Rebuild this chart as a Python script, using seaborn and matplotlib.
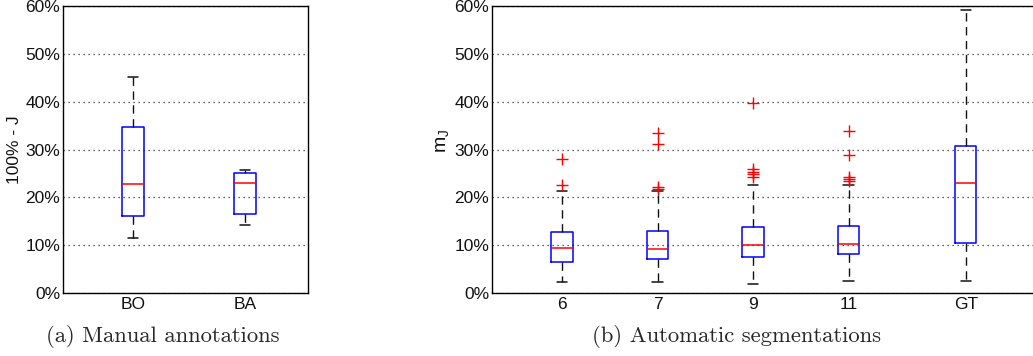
import numpy as np
import pandas as pd
import matplotlib
matplotlib.use("Agg")
import matplotlib.pyplot as plt
import seaborn as sns

# ---------------- data (in %) ----------------
groups_a = ["BO", "BA"]
lo_a = [11.5, 14.2]
q1_a = [16.0, 16.6]
med_a = [22.7, 23.0]
q3_a = [34.8, 25.1]
hi_a = [45.1, 25.8]
fliers_a = [[], []]

groups_b = ["6", "7", "9", "11", "GT"]
pos_b = [1.0, 2.0, 3.0, 4.0, 5.23]
lo_b = [2.35, 2.35, 1.95, 2.55, 2.55]
q1_b = [6.5, 7.2, 7.6, 8.2, 10.5]
med_b = [9.5, 9.1, 10.1, 10.3, 23.1]
q3_b = [12.8, 13.0, 13.7, 14.1, 30.8]
hi_b = [21.3, 21.3, 22.5, 22.5, 59.2]
fliers_b = [
    [22.5, 28.0],
    [21.8, 22.1, 31.2, 33.4],
    [24.2, 24.8, 25.3, 25.9, 39.8],
    [23.5, 23.9, 24.3, 28.9, 33.8],
    [],
]

ytick_vals = [0, 10, 20, 30, 40, 50, 60]
ytick_labels = [f"{v}%" for v in ytick_vals]


def sample_from_summary(lo, q1, med, q3, hi, fl):
    """Sample of 4k+1 values whose quartiles / whiskers are exactly the read ones."""
    k = len(fl) + 1
    vals = ([lo] + [q1] * (k - 1) + [q1] + [med] * (k - 1) + [med]
            + [q3] * (k - 1) + [q3] + [hi] + list(fl))
    return vals


def long_frame(keys, los, q1s, meds, q3s, his, fls):
    rows = []
    for key, lo, q1, med, q3, hi, fl in zip(keys, los, q1s, meds, q3s, his, fls):
        for v in sample_from_summary(lo, q1, med, q3, hi, fl):
            rows.append({"g": key, "v": v})
    return pd.DataFrame(rows)


df_a = long_frame(groups_a, lo_a, q1_a, med_a, q3_a, hi_a, fliers_a)
df_b = long_frame(pos_b, lo_b, q1_b, med_b, q3_b, hi_b, fliers_b)

# ---------------- style ----------------
sns.set_style("white")
plt.rcParams["font.family"] = ["Liberation Sans", "DejaVu Sans"]
plt.rcParams["mathtext.fontset"] = "custom"
plt.rcParams["mathtext.rm"] = "Liberation Sans"
plt.rcParams["mathtext.it"] = "Liberation Sans"

W, H = 1033, 356
fig = plt.figure(figsize=(W / 100, H / 100), dpi=100)
fig.patch.set_facecolor("white")

ax1 = fig.add_axes([63 / W, (H - 293) / H, (308 - 63) / W, (293 - 6) / H])
ax2 = fig.add_axes([492 / W, (H - 293) / H, (1040 - 492) / W, (293 - 6) / H])

box_kw = dict(
    fill=False,
    whis=1.5,
    linewidth=1.0,
    boxprops=dict(color="#0000ff", linewidth=1.1),
    medianprops=dict(color="#ff0000", linewidth=1.1),
    whiskerprops=dict(color="#111111", linewidth=1.0, linestyle=(0, (6, 4))),
    capprops=dict(color="#111111", linewidth=1.1),
    flierprops=dict(marker="+", markeredgecolor="#ff0000", markerfacecolor="none",
                    markersize=8, markeredgewidth=1.0, linestyle="none"),
)

sns.boxplot(data=df_a, x="g", y="v", order=groups_a, width=0.19, ax=ax1, **box_kw)
sns.boxplot(data=df_b, x="g", y="v", native_scale=True, width=0.22, ax=ax2, **box_kw)

for ax in (ax1, ax2):
    ax.set_ylim(0, 60)
    ax.set_yticks(ytick_vals)
    ax.set_yticklabels(ytick_labels)
    ax.yaxis.grid(True, linestyle=(0, (1, 3)), color="#333333", linewidth=0.9)
    ax.xaxis.grid(False)
    ax.set_axisbelow(True)
    ax.tick_params(axis="both", length=0, labelsize=12.5, colors="#111111", pad=2)
    ax.tick_params(axis="x", pad=3)
    for sp in ax.spines.values():
        sp.set_visible(True)
        sp.set_color("black")
        sp.set_linewidth(1.0)
    ax.set_xlabel("")

ax1.set_xlim(-0.625, 1.5625)
ax1.set_ylabel("100% - J", fontsize=12.5, color="#111111")
ax1.yaxis.set_label_coords(-0.167, 0.5)

ax2.set_xlim(0.267, 1 + (1040 - 562) / 95.5)
ax2.set_xticks(pos_b)
ax2.set_xticklabels(groups_b)
ax2.set_ylabel(r"m$_{\mathrm{J}}$", fontsize=14, color="#111111")
ax2.yaxis.set_label_coords(-0.075, 0.53)

fig.text(163 / W, 1 - 337 / H, "(a) Manual annotations", ha="center", va="center",
         fontsize=16.3, family="cmr10")
fig.text(737 / W, 1 - 337 / H, "(b) Automatic segmentations", ha="center", va="center",
         fontsize=16.3, family="cmr10")

fig.savefig("out.png", dpi=100)
